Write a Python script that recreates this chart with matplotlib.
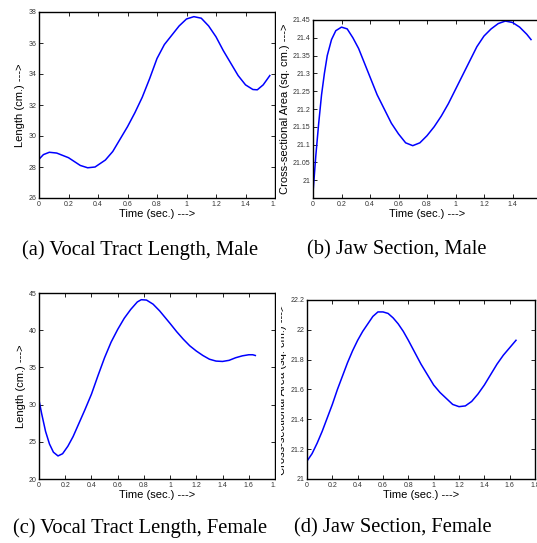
import matplotlib.pyplot as plt
from matplotlib.patches import Rectangle
from matplotlib.transforms import Bbox, TransformedBbox

# (a) vocal tract length, male
t_a = [0.0, 0.03, 0.07, 0.12, 0.2, 0.28, 0.33, 0.38, 0.45, 0.5, 0.55, 0.6, 0.65,
       0.7, 0.75, 0.8, 0.85, 0.9, 0.95, 1.0, 1.05, 1.1, 1.15, 1.2, 1.25, 1.3,
       1.35, 1.4, 1.45, 1.48, 1.52, 1.565]
len_a = [28.5, 28.8, 28.95, 28.9, 28.6, 28.1, 27.95, 28.0, 28.45, 29.0, 29.8, 30.6,
         31.5, 32.5, 33.7, 35.0, 35.9, 36.5, 37.1, 37.55, 37.7, 37.6, 37.1, 36.4,
         35.5, 34.7, 33.9, 33.3, 33.0, 32.98, 33.3, 33.9]

# (b) jaw section, male
t_b = [0.0, 0.02, 0.04, 0.06, 0.08, 0.1, 0.13, 0.16, 0.2, 0.24, 0.28, 0.32, 0.36,
       0.4, 0.45, 0.5, 0.55, 0.6, 0.65, 0.7, 0.75, 0.8, 0.85, 0.9, 0.95, 1.0,
       1.05, 1.1, 1.15, 1.2, 1.25, 1.3, 1.35, 1.4, 1.45, 1.5, 1.53]
area_b = [20.965, 21.07, 21.16, 21.24, 21.3, 21.35, 21.395, 21.42, 21.43, 21.425,
          21.4, 21.37, 21.33, 21.29, 21.24, 21.2, 21.16, 21.13, 21.105, 21.097,
          21.105, 21.125, 21.15, 21.18, 21.215, 21.255, 21.295, 21.335, 21.375,
          21.405, 21.425, 21.44, 21.447, 21.443, 21.43, 21.41, 21.395]

# (c) vocal tract length, female
t_c = [0.0, 0.02, 0.05, 0.08, 0.11, 0.145, 0.18, 0.22, 0.26, 0.3, 0.35, 0.4, 0.45,
       0.5, 0.55, 0.6, 0.65, 0.7, 0.75, 0.78, 0.82, 0.87, 0.92, 1.0, 1.05, 1.1,
       1.15, 1.2, 1.25, 1.3, 1.35, 1.4, 1.45, 1.5, 1.55, 1.6, 1.63, 1.65]
len_c = [30.6, 28.8, 26.4, 24.7, 23.6, 23.1, 23.4, 24.4, 25.7, 27.3, 29.3, 31.4,
         33.9, 36.3, 38.4, 40.1, 41.6, 42.8, 43.8, 44.1, 44.05, 43.5, 42.6, 40.9,
         39.8, 38.8, 37.9, 37.2, 36.6, 36.1, 35.85, 35.8, 35.95, 36.3, 36.55,
         36.7, 36.7, 36.6]

# (d) jaw section, female
t_d = [0.0, 0.04, 0.08, 0.12, 0.16, 0.2, 0.24, 0.28, 0.32, 0.36, 0.4, 0.44, 0.48,
       0.52, 0.56, 0.6, 0.64, 0.68, 0.72, 0.76, 0.8, 0.85, 0.9, 0.95, 1.0, 1.05,
       1.1, 1.15, 1.2, 1.25, 1.3, 1.35, 1.4, 1.45, 1.5, 1.55, 1.6, 1.65]
area_d = [21.12, 21.17, 21.24, 21.32, 21.41, 21.5, 21.6, 21.69, 21.78, 21.86, 21.93,
          21.99, 22.04, 22.09, 22.12, 22.12, 22.11, 22.08, 22.04, 21.99, 21.93,
          21.85, 21.77, 21.7, 21.63, 21.58, 21.54, 21.5, 21.485, 21.49, 21.52,
          21.57, 21.63, 21.7, 21.77, 21.83, 21.88, 21.93]

captions = ['(a) Vocal Tract Length, Male', '(b) Jaw Section, Male',
            '(c) Vocal Tract Length, Female', '(d) Jaw Section, Female']

W, H = 537, 543
plt.rcParams['font.family'] = 'Liberation Sans'
fig = plt.figure(figsize=(W / 100, H / 100), dpi=100)


def box(x0, y0, x1, y1):
    # pixel box (top-left origin) -> figure fraction rect
    return [x0 / W, (H - y1) / H, (x1 - x0) / W, (y1 - y0) / H]


def panel(rect, t, y, xlim, ylim, yticks, ylabel):
    ax = fig.add_axes(rect)
    ax.plot(t, y, color='#0000ff', lw=1.1)
    ax.set_xlim(*xlim)
    ax.set_ylim(*ylim)
    xt = [round(0.2 * i, 1) for i in range(int(round(xlim[1] / 0.2)) + 1)]
    ax.set_xticks(xt)
    ax.set_xticklabels([('%g' % v) for v in xt])
    ax.set_yticks(yticks)
    ax.set_yticklabels([('%g' % v) for v in yticks])
    ax.tick_params(direction='in', length=3, width=0.6, labelsize=5,
                   labelcolor='#333333', top=True, right=True, pad=2)
    for s in ax.spines.values():
        s.set_linewidth(1.0)
    ax.set_xlabel('Time (sec.) --->', fontsize=8, labelpad=1)
    ax.set_ylabel(ylabel, fontsize=8, labelpad=2)
    return ax


ax_a = panel(box(39, 12, 275, 198), t_a, len_a, (0, 1.6), (26, 38),
             [26, 28, 30, 32, 34, 36, 38], 'Length (cm.) --->')
ax_b = panel(box(313, 20, 541, 198), t_b, area_b, (0, 1.6), (20.95, 21.45),
             [21, 21.05, 21.1, 21.15, 21.2, 21.25, 21.3, 21.35, 21.4, 21.45],
             'Cross-sectional Area (sq. cm.) --->')
ax_c = panel(box(39, 293, 275, 479), t_c, len_c, (0, 1.8), (20, 45),
             [20, 25, 30, 35, 40, 45], 'Length (cm.) --->')
ax_d = panel(box(307, 300, 535, 479), t_d, area_d, (0, 1.8), (21, 22.2),
             [21, 21.2, 21.4, 21.6, 21.8, 22, 22.2],
             'Cross-sectional Area (sq. cm.) --->')

# right-hand images sit on top of the left ones and crop them
ax_b.set_zorder(2)
ax_d.set_zorder(2)
fig.add_artist(Rectangle((276 / W, 0), 30 / W, 1, transform=fig.transFigure,
                         facecolor='white', edgecolor='none', zorder=1))
# the (d) image is cropped through its y label
lab = ax_d.yaxis.label
lab.set_clip_box(TransformedBbox(Bbox([[280.5 / W, 0], [1, 1]]), fig.transFigure))
lab.set_clip_on(True)

cap_pos = [(140, 250), (397, 250), (140, 528), (393, 528)]
for (cx, cy), txt in zip(cap_pos, captions):
    fig.text(cx / W, 1 - cy / H, txt, family='Liberation Serif', fontsize=14.8,
             ha='center', va='center')

fig.savefig('out.png', dpi=100)
